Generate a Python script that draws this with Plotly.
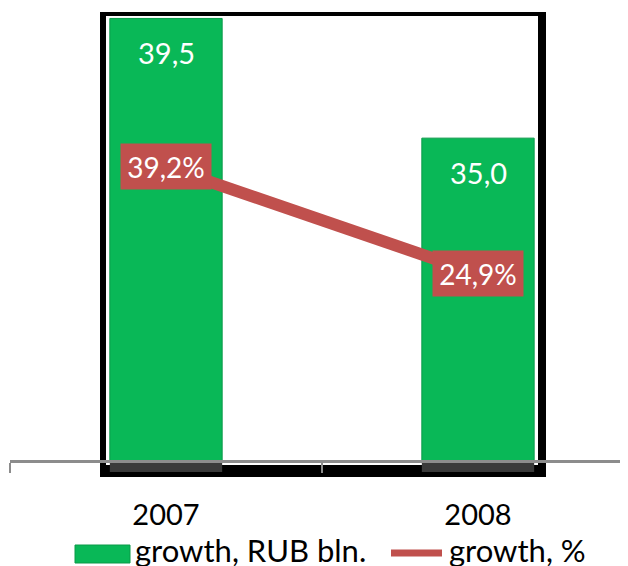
import plotly.graph_objects as go

categories = ["2007", "2008"]
growth_rub = [39.5, 35.0]
growth_pct = [39.2, 24.9]
rub_labels = ["39,5", "35,0"]
pct_labels = ["39,2%", "24,9%"]
legend_names = ["growth, RUB bln.", "growth, %"]

GREEN = "#09B857"
RED = "#C0504D"
FONT = "Lato"

W, H = 628, 566
OFF = 8  # page body margin offset
# plot area on screen: x 10..628, y 12..460
ML = 10 - OFF
MT = 12 - OFF
MR = OFF
MB = H - (460 - OFF)
PW = W - ML - MR
PH = H - MT - MB


def px(x):
    return (x - OFF - ML) / PW


def py(y):
    return (H - MB - (y - OFF)) / PH


fig = go.Figure()

fig.add_trace(go.Bar(
    x=categories, y=growth_rub, width=0.36, name=legend_names[0],
    marker=dict(color=GREEN, line=dict(color="#0A9A49", width=1)),
    showlegend=False, hoverinfo="skip",
))
fig.add_trace(go.Scatter(
    x=categories, y=growth_pct, yaxis="y2", mode="lines", name=legend_names[1],
    line=dict(color=RED, width=12), showlegend=False, hoverinfo="skip",
))

shapes = [
    dict(type="rect", xref="paper", yref="paper", x0=px(100), x1=px(546),
         y0=py(477), y1=py(12), fillcolor="black", line_width=0, layer="below"),
    dict(type="rect", xref="paper", yref="paper", x0=px(106), x1=px(538),
         y0=py(465), y1=py(16), fillcolor="white", line_width=0, layer="below"),
]
for i in range(len(categories)):
    shapes.append(dict(type="rect", xref="x", yref="paper", x0=i - 0.18, x1=i + 0.18,
                       y0=py(472), y1=py(461), fillcolor="#3a3a3a", line_width=0,
                       layer="below"))
shapes.append(dict(type="rect", xref="paper", yref="paper", x0=px(75), x1=px(130),
                   y0=py(563), y1=py(545), fillcolor=GREEN,
                   line=dict(color="#0A9A49", width=1)))
shapes.append(dict(type="line", xref="paper", yref="paper", x0=px(391), x1=px(442),
                   y0=py(553), y1=py(553), line=dict(color=RED, width=7)))

annotations = []
for i, (v, t) in enumerate(zip(growth_rub, rub_labels)):
    annotations.append(dict(x=i, y=v, xref="x", yref="y", text=t, showarrow=False,
                            yanchor="middle", yshift=-34,
                            font=dict(family=FONT, size=29, color="white")))
for i, (v, t) in enumerate(zip(growth_pct, pct_labels)):
    annotations.append(dict(x=i, y=v, xref="x", yref="y2", text=t, showarrow=False,
                            xanchor="center", yanchor="middle", width=90, height=45,
                            bgcolor=RED, borderpad=0,
                            font=dict(family=FONT, size=28, color="white")))
annotations.append(dict(x=px(133), y=py(550), xref="paper", yref="paper",
                        text=legend_names[0], showarrow=False, xanchor="left",
                        yanchor="middle", font=dict(family=FONT, size=31, color="black")))
annotations.append(dict(x=px(447), y=py(550), xref="paper", yref="paper",
                        text=legend_names[1], showarrow=False, xanchor="left",
                        yanchor="middle", font=dict(family=FONT, size=31, color="black")))

fig.update_layout(
    width=W, height=H,
    margin=dict(l=ML, r=MR, t=MT, b=MB),
    paper_bgcolor="white", plot_bgcolor="rgba(0,0,0,0)",
    showlegend=False,
    font=dict(family=FONT, size=28, color="black"),
    xaxis=dict(
        type="category", categoryorder="array", categoryarray=categories,
        range=[-0.5, -0.5 + PW / 312], tickson="boundaries", ticks="outside", ticklen=10,
        tickwidth=2, tickcolor="#8C8C8C", showline=True, linecolor="#8C8C8C",
        linewidth=3, showgrid=False, zeroline=False, ticklabelstandoff=27,
        tickfont=dict(family=FONT, size=29, color="black"),
    ),
    yaxis=dict(range=[22.9, 22.9 + PH / 26.6], visible=False, showgrid=False),
    yaxis2=dict(range=[0, PH / 7.48], overlaying="y", visible=False, showgrid=False),
    shapes=shapes,
    annotations=annotations,
)

fig.write_html("out.html")
